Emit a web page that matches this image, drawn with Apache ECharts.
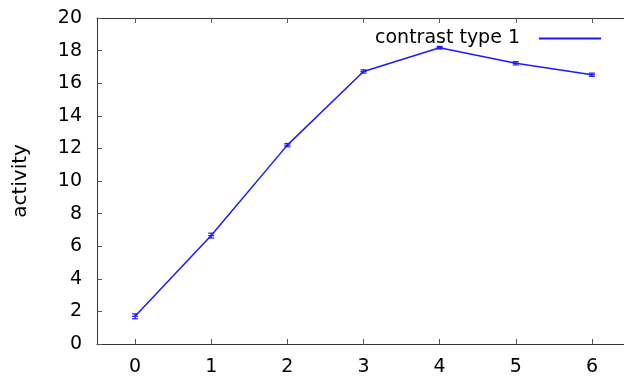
<!DOCTYPE html>
<html>
<head>
<meta charset="utf-8">
<script src="https://cdn.jsdelivr.net/npm/echarts@6/dist/echarts.min.js"></script>
<style>html,body{margin:0;padding:0;background:#fff;overflow:hidden;width:624px;height:380px;}#c{width:631px;height:380px;}</style>
</head>
<body>
<div id="c"></div>
<script>
var categories = ['0', '1', '2', '3', '4', '5', '6'];
var activity = [1.7, 6.65, 12.2, 16.72, 18.18, 17.22, 16.52];
var errors = [0.15, 0.15, 0.1, 0.1, 0.08, 0.1, 0.1];
var yTicks = [0, 2, 4, 6, 8, 10, 12, 14, 16, 18, 20];
var seriesName = 'contrast type 1';

var FONT = 'DejaVu Sans';
var BLUE = '#1a1aff';
var chart = echarts.init(document.getElementById('c'), null, {renderer: 'canvas'});

var errData = categories.map(function (c, i) { return [i, activity[i], errors[i]]; });

chart.setOption({
  animation: false,
  backgroundColor: '#fff',
  grid: {left: 97, top: 18, right: 1, height: 326, containLabel: false},
  legend: {
    data: [{name: seriesName, icon: 'rect'}],
    right: 25, top: 24, align: 'right',
    itemWidth: 62, itemHeight: 2,
    textStyle: {fontFamily: FONT, fontSize: 19, color: '#000', padding: [0, 14, 0, 0]},
    itemStyle: {color: BLUE}
  },
  xAxis: [{
    type: 'category', data: categories, boundaryGap: true,
    axisLine: {show: true, onZero: false, lineStyle: {color: '#333', width: 1}},
    axisTick: {show: true, inside: true, length: 5, alignWithLabel: true, lineStyle: {color: '#555'}},
    axisLabel: {fontFamily: FONT, fontSize: 19, color: '#000', margin: 14},
    splitLine: {show: false}
  }, {
    type: 'category', data: categories, boundaryGap: true, position: 'top',
    axisLine: {show: true, onZero: false, lineStyle: {color: '#333', width: 1}},
    axisTick: {show: true, inside: true, length: 5, alignWithLabel: true, lineStyle: {color: '#555'}},
    axisLabel: {show: false},
    splitLine: {show: false}
  }],
  yAxis: [{
    type: 'value', min: yTicks[0], max: yTicks[yTicks.length - 1], interval: 2,
    name: 'activity', nameLocation: 'middle', nameGap: 66,
    nameTextStyle: {fontFamily: FONT, fontSize: 20, color: '#000'},
    axisLine: {show: true, onZero: false, lineStyle: {color: '#333', width: 1}},
    axisTick: {show: true, inside: true, length: 5, lineStyle: {color: '#555'}},
    axisLabel: {fontFamily: FONT, fontSize: 19, color: '#000', margin: 15},
    splitLine: {show: false}
  }, {
    type: 'value', min: yTicks[0], max: yTicks[yTicks.length - 1], interval: 2, position: 'right',
    axisLine: {show: true, onZero: false, lineStyle: {color: '#333', width: 1}},
    axisTick: {show: true, inside: true, length: 5, lineStyle: {color: '#555'}},
    axisLabel: {show: false},
    splitLine: {show: false}
  }],
  series: [{
    name: seriesName, type: 'line', data: activity,
    xAxisIndex: 0, yAxisIndex: 0,
    symbol: 'none', lineStyle: {color: BLUE, width: 1.5}, itemStyle: {color: BLUE},
    z: 2
  }, {
    type: 'custom', xAxisIndex: 0, yAxisIndex: 0, data: errData, z: 3,
    renderItem: function (params, api) {
      var x = api.value(0), y = api.value(1), e = api.value(2);
      var top = api.coord([x, y + e]);
      var bot = api.coord([x, y - e]);
      var mid = api.coord([x, y]);
      var w = 3;
      var style = {stroke: BLUE, lineWidth: 1.2, fill: null};
      return {
        type: 'group',
        children: [
          {type: 'line', shape: {x1: top[0], y1: top[1], x2: bot[0], y2: bot[1]}, style: style},
          {type: 'line', shape: {x1: top[0] - w, y1: top[1], x2: top[0] + w, y2: top[1]}, style: style},
          {type: 'line', shape: {x1: bot[0] - w, y1: bot[1], x2: bot[0] + w, y2: bot[1]}, style: style},
          {type: 'line', shape: {x1: mid[0] - w, y1: mid[1], x2: mid[0] + w, y2: mid[1]}, style: style}
        ]
      };
    }
  }]
});
</script>
</body>
</html>
